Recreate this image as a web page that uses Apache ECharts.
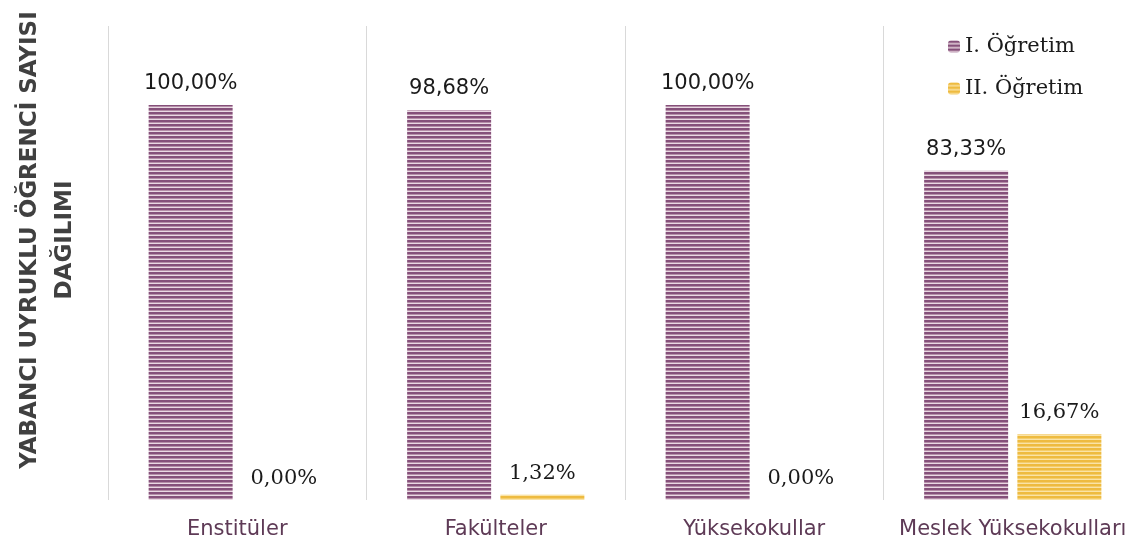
<!DOCTYPE html>
<html><head><meta charset="utf-8">
<script src="https://cdn.jsdelivr.net/npm/echarts@6/dist/echarts.min.js"></script>
<style>html,body{margin:0;padding:0;background:#fff}#c{width:1142px;height:550px}</style>
</head><body><div id="c"></div>
<script>
const categories = ['Enstitüler', 'Fakülteler', 'Yüksekokullar', 'Meslek Yüksekokulları'];
const seriesNames = ['I. Öğretim', 'II. Öğretim'];
const ogretim1 = [100.00, 98.68, 100.00, 83.33];
const ogretim2 = [0.00, 1.32, 0.00, 16.67];

function stripes(dark, mid, light) {
  const c = document.createElement('canvas');
  c.width = 4; c.height = 4;
  const g = c.getContext('2d');
  g.fillStyle = dark; g.fillRect(0, 0, 4, 2);
  g.fillStyle = mid; g.fillRect(0, 2, 4, 1);
  g.fillStyle = light; g.fillRect(0, 3, 4, 1);
  return { image: c, repeat: 'repeat' };
}
const purple = stripes('#85507a', '#b58ea8', '#ead8e3');
const yellow = stripes('#eebb40', '#f4cd6c', '#fae3a6');

const chart = echarts.init(document.getElementById('c'));
const fmt = p => p.value.toFixed(2).replace('.', ',') + '%';
chart.setOption({
  animation: false,
  grid: { left: 108, right: 0, top: 26, bottom: 50 },
  legend: {
    orient: 'vertical', left: 943, top: 31, itemWidth: 12, itemHeight: 12, itemGap: 21,
    textStyle: { fontFamily: 'DejaVu Serif', fontSize: 21, color: '#1a1a1a' },
    data: seriesNames
  },
  xAxis: {
    type: 'category', data: categories,
    axisLine: { show: false }, axisTick: { show: false },
    splitLine: { show: true, lineStyle: { color: '#d9d9d9', width: 1 } },
    axisLabel: { margin: 19, fontFamily: 'DejaVu Sans', fontSize: 21, color: '#5e3a56', interval: 0 }
  },
  yAxis: { type: 'value', min: 0, max: 120, show: false, splitLine: { show: false } },
  graphic: [{
    type: 'text', x: 48, y: 240, rotation: Math.PI / 2,
    style: {
      text: 'YABANCI UYRUKLU ÖĞRENCİ SAYISI\nDAĞILIMI', align: 'center', verticalAlign: 'middle',
      font: 'bold 23px "DejaVu Sans"', fill: '#404040', lineHeight: 35
    }
  }],
  series: [
    {
      name: seriesNames[0], type: 'bar', data: ogretim1, barWidth: 84, barGap: '11%',
      itemStyle: { color: purple },
      label: { show: true, position: 'top', distance: 11, formatter: fmt,
        fontFamily: 'DejaVu Sans', fontSize: 21, color: '#1a1a1a' }
    },
    {
      name: seriesNames[1], type: 'bar', data: ogretim2, barWidth: 84,
      itemStyle: { color: yellow },
      label: { show: true, position: 'top', distance: 11, formatter: fmt,
        fontFamily: 'DejaVu Serif', fontSize: 21, color: '#1a1a1a' }
    }
  ]
});
</script></body></html>
